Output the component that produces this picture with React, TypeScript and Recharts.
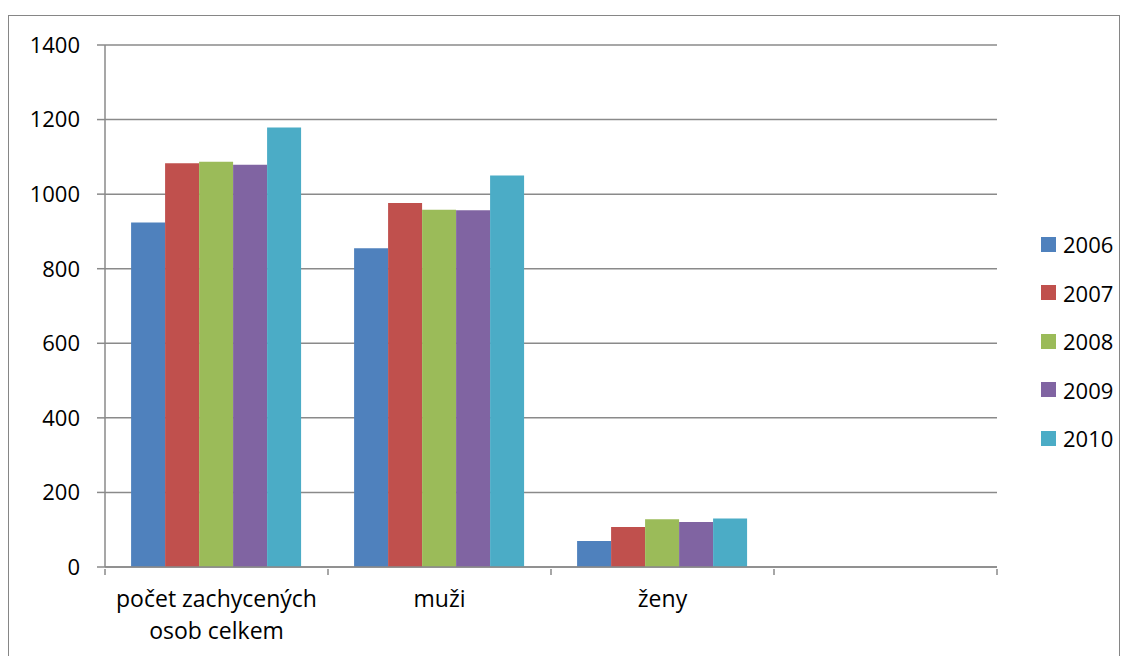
import React from "react";
import { BarChart, Bar, XAxis, YAxis, CartesianGrid } from "recharts";

const categories = ["počet zachycených osob celkem", "muži", "ženy", ""];
const categoryLines: string[][] = [["počet zachycených", "osob celkem"], ["muži"], ["ženy"], []];
const seriesNames = ["2006", "2007", "2008", "2009", "2010"];
const seriesColors = ["#4F81BD", "#C0504D", "#9BBB59", "#8064A2", "#4BACC6"];
const values2006 = [924, 855, 70, null];
const values2007 = [1083, 976, 107, null];
const values2008 = [1087, 958, 128, null];
const values2009 = [1079, 957, 121, null];
const values2010 = [1179, 1050, 130, null];
const yTicks = [0, 200, 400, 600, 800, 1000, 1200, 1400];

const allValues = [values2006, values2007, values2008, values2009, values2010];
const data = categories.map((c, i) => {
  const row: any = { name: c, idx: i };
  seriesNames.forEach((s, k) => {
    row[s] = allValues[k][i];
  });
  return row;
});

const FONT = "'Open Sans', sans-serif";
const FS = 22;
const GRID = "#8a8a8a";

const XTick = (props: any) => {
  const { x, y, payload, index } = props;
  const off = payload.offset || 0;
  const lines = categoryLines[index] || [];
  return (
    <g>
      <line x1={x - off} x2={x - off} y1={y - 6} y2={y} stroke={GRID} strokeWidth={1.5} />
      {index === categories.length - 1 && (
        <line x1={x + off} x2={x + off} y1={y - 6} y2={y} stroke={GRID} strokeWidth={1.5} />
      )}
      {lines.map((t, i) => (
        <text key={i} x={x} y={y + 32 + i * 32} textAnchor="middle" fontSize={23} fontFamily={FONT} fill="#000">
          {t}
        </text>
      ))}
    </g>
  );
};

export default function App() {
  return (
    <div style={{ position: "absolute", left: 0, top: 0, width: 1129, height: 656, background: "#fff", overflow: "hidden" }}>
      <div style={{ position: "absolute", left: 8, top: 15, width: 1112, height: 700, border: "1.5px solid #868686", boxSizing: "border-box" }} />
      <div style={{ position: "absolute", left: 0, top: 0 }}>
        <BarChart width={1129} height={656} data={data} margin={{ top: 45, right: 132, bottom: 0, left: 0 }} barCategoryGap="11.7%" barGap={0}>
          <CartesianGrid vertical={false} stroke={GRID} strokeWidth={1.5} />
          <XAxis dataKey="name" height={89} interval={0} tickLine={false} axisLine={{ stroke: GRID, strokeWidth: 1.5 }} tick={<XTick />} />
          <YAxis
            width={105}
            domain={[0, 1400]}
            ticks={yTicks}
            interval={0}
            tickSize={8}
            tickMargin={17}
            tickLine={{ stroke: GRID, strokeWidth: 1.5 }}
            axisLine={{ stroke: GRID, strokeWidth: 1.5 }}
            tick={{ fill: "#000", fontSize: FS, fontFamily: FONT }}
          />
          {seriesNames.map((s, i) => (
            <Bar key={s} dataKey={s} fill={seriesColors[i]} isAnimationActive={false} />
          ))}
        </BarChart>
      </div>
      <div style={{ position: "absolute", left: 1041, top: 220, fontFamily: FONT, fontSize: FS, color: "#000" }}>
        {seriesNames.map((s, i) => (
          <div key={s} style={{ display: "flex", alignItems: "center", height: 48.5 }}>
            <div style={{ width: 15, height: 15, background: seriesColors[i], marginRight: 7 }} />
            <span>{s}</span>
          </div>
        ))}
      </div>
    </div>
  );
}
